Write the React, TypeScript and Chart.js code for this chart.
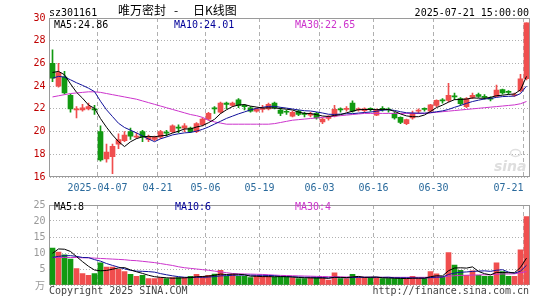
import React, { useEffect, useRef } from 'react';
import { Chart, registerables } from 'chart.js';
Chart.register(...registerables);

// ---------- data ----------
const dates = [
  '2025-03-25','2025-03-26','2025-03-27','2025-03-28','2025-03-31',
  '2025-04-01','2025-04-02','2025-04-03','2025-04-07','2025-04-08','2025-04-09','2025-04-10','2025-04-11',
  '2025-04-14','2025-04-15','2025-04-16','2025-04-17','2025-04-18','2025-04-21','2025-04-22','2025-04-23',
  '2025-04-24','2025-04-25','2025-04-28','2025-04-29','2025-04-30',
  '2025-05-06','2025-05-07','2025-05-08','2025-05-09','2025-05-12','2025-05-13','2025-05-14','2025-05-15',
  '2025-05-16','2025-05-19','2025-05-20','2025-05-21','2025-05-22','2025-05-23','2025-05-26','2025-05-27',
  '2025-05-28','2025-05-29','2025-05-30',
  '2025-06-03','2025-06-04','2025-06-05','2025-06-06','2025-06-09','2025-06-10','2025-06-11','2025-06-12',
  '2025-06-13','2025-06-16','2025-06-17','2025-06-18','2025-06-19','2025-06-20','2025-06-23','2025-06-24',
  '2025-06-25','2025-06-26','2025-06-27','2025-06-30',
  '2025-07-01','2025-07-02','2025-07-03','2025-07-04','2025-07-07','2025-07-08','2025-07-09','2025-07-10',
  '2025-07-11','2025-07-14','2025-07-15','2025-07-16','2025-07-17','2025-07-18','2025-07-21',
];

const opens = [
  26.0, 24.0, 24.8, 23.2, 21.9, 21.9, 22.0, 22.0, 20.0, 17.6,
  17.8, 18.9, 19.2, 20.0, 19.5, 20.0, 19.3, 19.3, 19.5, 19.95,
  20.0, 20.4, 20.3, 20.3, 20.0, 20.6, 21.1, 22.1, 21.7, 22.5,
  22.3, 22.8, 22.3, 22.1, 21.8, 21.95, 22.0, 22.5, 21.9, 21.75,
  21.35, 21.8, 21.6, 21.45, 21.6, 20.85, 21.15, 21.35, 22.0, 21.95,
  22.5, 21.9, 21.85, 22.0, 21.45, 22.0, 21.95, 21.6, 21.25, 20.7,
  21.2, 21.8, 22.0, 21.8, 22.3, 22.8, 22.75, 23.15, 22.9, 22.2,
  23.0, 23.25, 23.1, 22.95, 23.1, 23.7, 23.5, 23.18, 23.6, 24.65,
];
const highs = [
  27.2, 26.0, 25.3, 23.3, 22.2, 22.4, 22.5, 22.3, 20.5, 18.9,
  18.9, 19.8, 20.0, 20.3, 19.9, 20.1, 19.7, 19.6, 20.1, 20.1,
  20.6, 20.6, 20.7, 20.4, 20.8, 21.2, 21.7, 22.2, 22.6, 22.6,
  22.6, 22.9, 22.4, 22.2, 22.1, 22.3, 22.5, 22.6, 22.1, 21.9,
  21.8, 21.9, 21.7, 21.7, 21.7, 21.2, 21.4, 22.3, 22.1, 22.2,
  22.7, 22.1, 22.1, 22.1, 22.0, 22.2, 22.1, 21.7, 21.3, 21.1,
  21.8, 22.0, 22.1, 22.4, 22.8, 22.9, 24.25, 23.4, 23.0, 23.0,
  23.4, 23.4, 23.25, 23.05, 24.1, 23.75, 23.6, 23.4, 25.05, 29.58,
];
const lows = [
  24.4, 23.9, 23.3, 21.7, 21.2, 21.8, 21.9, 21.5, 17.4, 17.3,
  16.3, 18.5, 19.1, 19.3, 19.4, 19.1, 19.1, 19.2, 19.4, 19.6,
  19.9, 19.9, 20.0, 19.9, 19.9, 20.5, 21.0, 21.6, 21.6, 22.0,
  22.2, 22.1, 21.9, 21.7, 21.7, 21.7, 21.9, 22.0, 21.4, 21.5,
  21.3, 21.4, 21.3, 21.3, 21.1, 20.7, 21.0, 21.3, 21.7, 21.8,
  21.7, 21.8, 21.7, 21.8, 21.4, 21.8, 21.7, 21.1, 20.7, 20.6,
  21.1, 21.6, 21.8, 21.7, 22.2, 22.5, 22.6, 22.8, 22.3, 22.1,
  22.9, 23.0, 22.85, 22.7, 23.05, 23.3, 23.3, 23.1, 23.5, 24.55,
];
const closes = [
  24.7, 25.2, 23.4, 22.0, 22.0, 22.1, 22.2, 21.9, 17.5, 18.2,
  18.7, 19.3, 19.7, 19.6, 19.6, 19.5, 19.5, 19.5, 20.0, 19.85,
  20.5, 20.3, 20.5, 20.0, 20.7, 21.1, 21.6, 22.0, 22.5, 22.4,
  22.5, 22.3, 22.2, 21.8, 22.0, 22.05, 22.4, 22.1, 21.6, 21.7,
  21.7, 21.5, 21.5, 21.55, 21.2, 21.1, 21.3, 21.95, 21.9, 22.0,
  21.8, 22.0, 22.0, 21.95, 21.9, 21.95, 21.9, 21.2, 20.8, 21.05,
  21.6, 21.9, 21.95, 22.35, 22.75, 22.7, 23.2, 23.05, 22.45, 22.9,
  23.2, 23.1, 23.0, 22.85, 23.65, 23.4, 23.45, 23.22, 24.65, 29.58,
];
// volume, 万
const volumes = [
  11.5, 10.3, 9.4, 8.1, 5.1, 3.6, 3.0, 3.6, 6.9, 5.6,
  5.6, 4.9, 4.2, 3.3, 2.7, 3.0, 2.0, 2.0, 2.3, 2.0,
  2.3, 2.3, 2.3, 2.7, 3.3, 2.7, 3.0, 3.4, 4.6, 2.7,
  3.3, 2.7, 2.7, 2.3, 2.7, 2.7, 2.7, 2.5, 2.5, 2.5,
  2.3, 2.0, 2.0, 2.3, 2.3, 2.3, 1.5, 3.8, 2.0, 2.0,
  3.3, 2.3, 2.3, 2.3, 2.3, 2.0, 2.0, 2.0, 2.0, 2.0,
  2.7, 2.0, 2.0, 4.2, 3.5, 2.5, 10.1, 6.2, 4.6, 3.0,
  4.4, 3.0, 2.7, 2.7, 6.9, 4.2, 2.7, 2.7, 11.0, 21.4,
];
// sessions just before the window (inferred from where the MA lines start)
const prevCloses = [23.6, 24.0, 24.4, 24.6, 24.4, 24.7, 24.9, 26.0, 25.7];
const prevVolumes = [6.8, 7.4, 7.9, 7.3, 7.1, 3.5, 9.8, 11.6, 13.1];
// MA30 lines
const ma30Price = [
  23.05, 23.15, 23.25, 23.35, 23.4, 23.45, 23.5, 23.5, 23.45, 23.35,
  23.25, 23.15, 23.05, 22.95, 22.85, 22.7, 22.55, 22.4, 22.25, 22.1,
  21.95, 21.8, 21.65, 21.5, 21.4, 21.25, 21.0, 20.85, 20.75, 20.65,
  20.65, 20.65, 20.65, 20.65, 20.65, 20.65, 20.65, 20.7, 20.8, 20.9,
  21.0, 21.05, 21.1, 21.15, 21.2, 21.25, 21.3, 21.35, 21.4, 21.45,
  21.5, 21.55, 21.6, 21.6, 21.6, 21.6, 21.6, 21.6, 21.6, 21.6,
  21.6, 21.6, 21.6, 21.65, 21.7, 21.75, 21.8, 21.85, 21.9, 21.95,
  22.0, 22.05, 22.1, 22.15, 22.2, 22.25, 22.3, 22.35, 22.45, 22.65,
];
const ma30Volume = [
  8.6, 8.6, 8.6, 8.6, 8.6, 8.5, 8.5, 8.4, 8.3, 8.2,
  8.1, 8.0, 7.9, 7.7, 7.6, 7.4, 7.2, 7.0, 6.7, 6.4,
  6.1, 5.7, 5.4, 5.2, 5.0, 4.8, 4.6, 4.35, 4.1, 3.85,
  3.6, 3.5, 3.45, 3.4, 3.35, 3.3, 3.2, 3.1, 3.0, 2.95,
  2.9, 2.85, 2.8, 2.75, 2.7, 2.65, 2.6, 2.6, 2.55, 2.5,
  2.5, 2.45, 2.45, 2.4, 2.4, 2.4, 2.4, 2.4, 2.4, 2.4,
  2.4, 2.4, 2.4, 2.45, 2.5, 2.5, 2.75, 2.9, 3.0, 3.05,
  3.1, 3.15, 3.2, 3.2, 3.35, 3.45, 3.45, 3.5, 3.8, 4.17,
];
const tickDates = ['2025-04-07','2025-04-21','2025-05-06','2025-05-19','2025-06-03','2025-06-16','2025-06-30','2025-07-21'];
const tickLabels = ['2025-04-07','04-21','05-06','05-19','06-03','06-16','06-30','07-21'];

// ---------- styles ----------
const RED = '#f04e4e';
const GREEN = '#129a12';
const GRID = '#b0b0b0';
const FRAME = '#9a9a9a';
const C_MA5 = '#000000';
const C_MA10 = '#10109a';
const C_MA30 = '#cc33cc';
const MONO = '10px "DejaVu Sans Mono"';

function movingAverage(values: number[], prev: number[], n: number): number[] {
  const all = prev.concat(values);
  return values.map((_, i) => {
    const end = prev.length + i;
    let s = 0;
    for (let k = end - n + 1; k <= end; k++) s += all[k];
    return s / n;
  });
}

const tickIdx = tickDates.map((d) => dates.indexOf(d));
const colors = closes.map((c, i) => (c >= opens[i] ? RED : GREEN));

function xScaleOpts() {
  return {
    offset: true,
    grid: {
      offset: true,
      drawTicks: false,
      color: (ctx: any) => (tickIdx.includes(ctx.index) ? GRID : 'rgba(0,0,0,0)'),
    },
    border: { display: false, dash: [4, 3] },
    ticks: { display: false, autoSkip: false },
    afterFit: (s: any) => { s.height = 0; },
  };
}

function lineDs(data: number[], color: string) {
  return { type: 'line', data, borderColor: color, borderWidth: 1, pointRadius: 0, tension: 0, fill: false };
}

export default function App() {
  const mainRef = useRef<HTMLCanvasElement>(null);
  const volRef = useRef<HTMLCanvasElement>(null);

  useEffect(() => {
    const ma5 = movingAverage(closes, prevCloses, 5);
    const ma10 = movingAverage(closes, prevCloses, 10);
    const vma5 = movingAverage(volumes, prevVolumes, 5);
    const vma10 = movingAverage(volumes, prevVolumes, 10);
    const last = closes.length - 1;

    const mainDecor = {
      id: 'mainDecor',
      beforeDatasetsDraw(chart: any) {
        const { ctx, chartArea: a } = chart;
        ctx.save();
        // sina watermark
        ctx.strokeStyle = '#e0e0e0';
        ctx.lineWidth = 1.5;
        ctx.beginPath();
        ctx.ellipse(a.right - 14, a.bottom - 24, 5, 3.5, 0, 0, Math.PI * 2);
        ctx.stroke();
        ctx.font = 'italic bold 14px "DejaVu Sans"';
        ctx.fillStyle = '#dedede';
        ctx.textAlign = 'right';
        ctx.textBaseline = 'alphabetic';
        ctx.fillText('sina', a.right - 3, a.bottom - 6);
        // frame
        ctx.strokeStyle = FRAME;
        ctx.lineWidth = 1;
        const t = Math.round(a.top) + 0.5;
        const b = Math.round(a.bottom) - 0.5;
        ctx.strokeRect(a.left, t, a.right - a.left, b - t);
        ctx.restore();
      },
      afterDraw(chart: any) {
        const { ctx, chartArea: a } = chart;
        const xs = chart.scales.x;
        ctx.save();
        ctx.textBaseline = 'alphabetic';
        // header
        ctx.fillStyle = '#000';
        ctx.font = MONO;
        ctx.textAlign = 'left';
        ctx.fillText('sz301161', 49, 15.5);
        ctx.textAlign = 'right';
        ctx.fillText('2025-07-21 15:00:00', 529, 15.5);
        ctx.textAlign = 'left';
        ctx.font = '12px "Noto Sans CJK SC"';
        ctx.fillText('唯万密封', 118, 15);
        ctx.fillText('-', 174, 15);
        ctx.fillText('日K线图', 193, 15);
        // MA legends
        ctx.font = MONO;
        ctx.fillStyle = C_MA5;
        ctx.fillText('MA5:' + ma5[last].toFixed(2), 54, 28);
        ctx.fillStyle = '#000099';
        ctx.fillText('MA10:' + ma10[last].toFixed(2), 174, 28);
        ctx.fillStyle = C_MA30;
        ctx.fillText('MA30:' + ma30Price[last].toFixed(2), 295, 28);
        // date labels
        ctx.fillStyle = '#2a6a9c';
        tickIdx.forEach((idx, k) => {
          const x = xs.getPixelForValue(idx) - 3;
          const w = ctx.measureText(tickLabels[k]).width;
          ctx.textAlign = x + w / 2 > a.right ? 'right' : 'center';
          ctx.fillText(tickLabels[k], x, 190.5);
        });
        ctx.restore();
      },
    };

    const volDecor = {
      id: 'volDecor',
      beforeDatasetsDraw(chart: any) {
        const { ctx, chartArea: a } = chart;
        ctx.save();
        ctx.strokeStyle = FRAME;
        ctx.lineWidth = 1;
        const t = Math.round(a.top) + 0.5;
        const b = Math.round(a.bottom) - 0.5;
        ctx.strokeRect(a.left, t, a.right - a.left, b - t);
        ctx.restore();
      },
      afterDraw(chart: any) {
        const { ctx } = chart;
        ctx.save();
        ctx.textBaseline = 'alphabetic';
        ctx.font = MONO;
        ctx.textAlign = 'left';
        ctx.fillStyle = C_MA5;
        ctx.fillText('MA5:' + Math.round(vma5[last]), 54, 15);
        ctx.fillStyle = '#000099';
        ctx.fillText('MA10:' + Math.round(vma10[last]), 175, 15);
        ctx.fillStyle = C_MA30;
        ctx.fillText('MA30:' + Math.round(ma30Volume[last]), 295, 15);
        ctx.fillStyle = '#999';
        ctx.font = '10px "Noto Sans CJK SC"';
        ctx.textAlign = 'right';
        ctx.fillText('万', 45, 94);
        ctx.fillStyle = '#444';
        ctx.font = MONO;
        ctx.textAlign = 'left';
        ctx.fillText('Copyright 2025 SINA.COM', 49, 99);
        ctx.textAlign = 'right';
        ctx.fillText('http://finance.sina.com.cn', 529, 99);
        ctx.restore();
      },
    };

    const mainChart = new Chart(mainRef.current as HTMLCanvasElement, {
      type: 'bar',
      data: {
        labels: dates,
        datasets: [
          lineDs(ma5, C_MA5),
          lineDs(ma10, C_MA10),
          lineDs(ma30Price, C_MA30),
          {
            type: 'bar',
            data: opens.map((o, i) => [o, closes[i]]),
            backgroundColor: colors,
            barThickness: 5,
            grouped: false,
            minBarLength: 1,
            borderWidth: 0,
          },
          {
            type: 'bar',
            data: lows.map((l, i) => [l, highs[i]]),
            backgroundColor: colors,
            barThickness: 1,
            grouped: false,
            borderWidth: 0,
          },
        ] as any,
      },
      options: {
        responsive: false,
        animation: false,
        events: [],
        layout: { padding: { left: 7.5, right: 15.5, top: 18, bottom: 18 } },
        plugins: { legend: { display: false }, tooltip: { enabled: false } },
        scales: {
          x: xScaleOpts() as any,
          y: {
            min: 16,
            max: 30,
            ticks: { stepSize: 2, color: '#c00000', font: { family: 'DejaVu Sans Mono', size: 10 }, padding: 4 },
            grid: { color: GRID, drawTicks: false },
            border: { display: false, dash: [1, 2] },
            afterFit: (s: any) => { s.width = 42; },
          } as any,
        },
      },
      plugins: [mainDecor],
    });

    const volChart = new Chart(volRef.current as HTMLCanvasElement, {
      type: 'bar',
      data: {
        labels: dates,
        datasets: [
          lineDs(vma5, C_MA5),
          lineDs(vma10, C_MA10),
          lineDs(ma30Volume, C_MA30),
          {
            type: 'bar',
            data: volumes,
            backgroundColor: colors,
            barThickness: 5,
            borderWidth: 0,
          },
        ] as any,
      },
      options: {
        responsive: false,
        animation: false,
        events: [],
        layout: { padding: { left: 7.5, right: 15.5, top: 6, bottom: 15 } },
        plugins: { legend: { display: false }, tooltip: { enabled: false } },
        scales: {
          x: xScaleOpts() as any,
          y: {
            min: 0,
            max: 25,
            ticks: {
              stepSize: 5,
              color: '#999',
              font: { family: 'DejaVu Sans Mono', size: 10 },
              padding: 4,
              callback: (v: any) => (v === 0 ? '' : String(v)),
            },
            grid: { color: GRID, drawTicks: false },
            border: { display: false, dash: [1, 2] },
            afterFit: (s: any) => { s.width = 42; },
          } as any,
        },
      },
      plugins: [volDecor],
    });

    return () => {
      mainChart.destroy();
      volChart.destroy();
    };
  }, []);

  return (
    <div style={{ position: 'fixed', left: 0, top: 0, width: 545, height: 300, background: '#fff' }}>
      <canvas ref={mainRef} width={545} height={195} style={{ position: 'absolute', left: 0, top: 0 }} />
      <canvas ref={volRef} width={545} height={105} style={{ position: 'absolute', left: 0, top: 195 }} />
    </div>
  );
}
